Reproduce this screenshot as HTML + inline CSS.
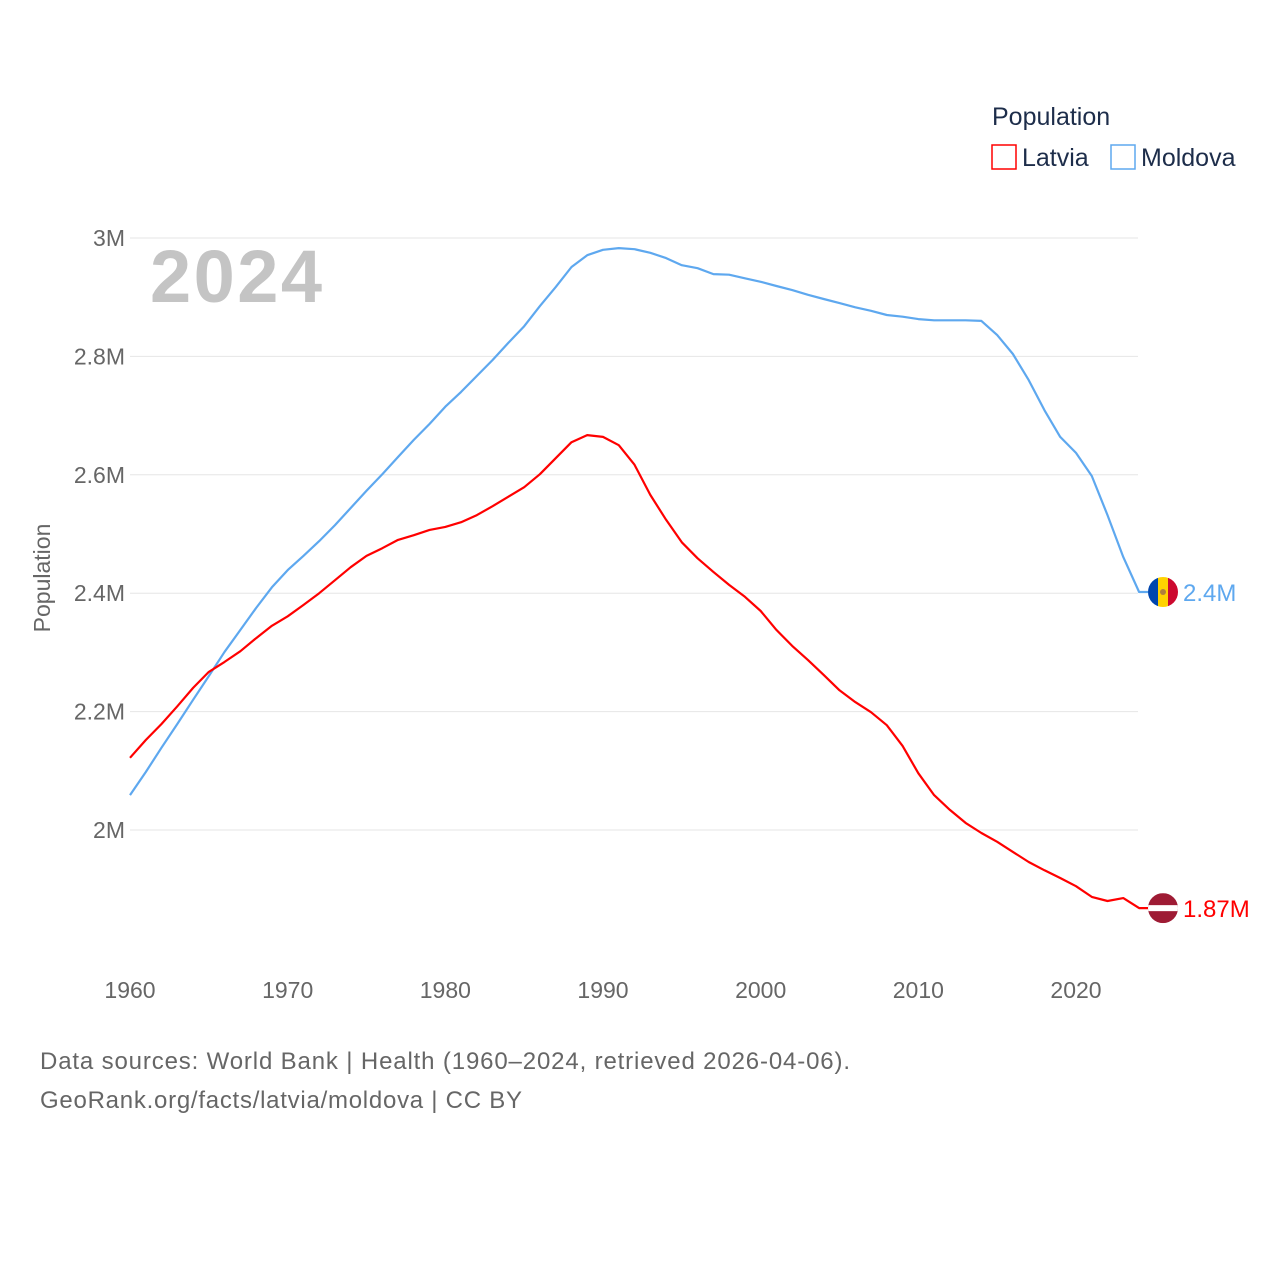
<!DOCTYPE html>
<html><head><meta charset="utf-8"><style>
html,body{margin:0;padding:0;background:#fff;width:1280px;height:1280px;overflow:hidden;font-family:"Liberation Sans",sans-serif}
svg text{font-family:"Liberation Sans",sans-serif}
</style></head><body>
<svg id="chart" width="1280" height="1280" xmlns="http://www.w3.org/2000/svg">
<text x="992" y="125" font-size="25" fill="#1d2d4a">Population</text>
<rect x="992" y="145" width="24" height="24" fill="none" stroke="#ff0000" stroke-width="1.5"/>
<text x="1022" y="166" font-size="25" fill="#1d2d4a">Latvia</text>
<rect x="1111" y="145" width="24" height="24" fill="none" stroke="#5ea8ef" stroke-width="1.5"/>
<text x="1141" y="166" font-size="25" fill="#1d2d4a">Moldova</text>
<text x="150" y="302" font-size="74" font-weight="bold" fill="#c4c4c4" textLength="172">2024</text>
<text transform="translate(50,578) rotate(-90)" text-anchor="middle" font-size="23" fill="#666">Population</text>
<g id="grid"></g><g id="lines"></g><g id="ends"></g>
<text x="40" y="1069" font-size="24" fill="#666" textLength="810">Data sources: World Bank | Health (1960–2024, retrieved 2026-04-06).</text>
<text x="40" y="1108" font-size="24" fill="#666" textLength="482">GeoRank.org/facts/latvia/moldova | CC BY</text>
</svg>
<script>
const years=[];for(let y=1960;y<=2024;y++)years.push(y);
const yTicks=[2,2.2,2.4,2.6,2.8,3];
const yTickLabels=["2M","2.2M","2.4M","2.6M","2.8M","3M"];
const xTicks=[1960,1970,1980,1990,2000,2010,2020];
const moldova=[2.059,2.098,2.139,2.179,2.220,2.260,2.301,2.338,2.375,2.410,2.439,2.463,2.488,2.515,2.544,2.573,2.601,2.630,2.659,2.686,2.715,2.740,2.767,2.794,2.823,2.851,2.885,2.917,2.951,2.971,2.980,2.983,2.981,2.975,2.966,2.954,2.949,2.939,2.938,2.932,2.926,2.919,2.912,2.904,2.897,2.890,2.883,2.877,2.870,2.867,2.863,2.861,2.861,2.861,2.860,2.836,2.804,2.760,2.709,2.664,2.637,2.598,2.532,2.461,2.402];
const latvia=[2.122,2.152,2.179,2.209,2.240,2.267,2.284,2.302,2.324,2.345,2.361,2.380,2.400,2.422,2.444,2.463,2.476,2.490,2.498,2.507,2.512,2.520,2.532,2.547,2.563,2.579,2.601,2.628,2.655,2.667,2.664,2.650,2.617,2.566,2.524,2.486,2.459,2.436,2.414,2.394,2.370,2.338,2.311,2.287,2.262,2.236,2.216,2.199,2.177,2.142,2.096,2.059,2.034,2.012,1.995,1.980,1.963,1.946,1.932,1.919,1.905,1.887,1.880,1.885,1.868];
const endLabels=["2.4M","1.87M"];
const X=v=>130+(v-1960)*(946/60);
const Y=v=>830-(v-2)*592;
const NS="http://www.w3.org/2000/svg";
function mk(t,a,p){const e=document.createElementNS(NS,t);for(const k in a)e.setAttribute(k,a[k]);p.appendChild(e);return e;}
const grid=document.getElementById('grid');
yTicks.forEach((v,i)=>{
 const l=mk('line',{x1:130,x2:1138,y1:Y(v),y2:Y(v),stroke:'#e6e6e6','stroke-width':1},grid);
 
 
 const t=mk('text',{x:125,y:Y(v)+8,'text-anchor':'end','font-size':23,fill:'#666'},grid);
 t.textContent=yTickLabels[i];
 
 
});
xTicks.forEach(v=>{
 const t=mk('text',{x:X(v),y:998,'text-anchor':'middle','font-size':23,fill:'#666'},grid);
 t.textContent=v;
 
 
});
const lines=document.getElementById('lines');
function draw(data,color,name){
 const d=data.map((v,i)=>(i?'L':'M')+X(years[i]).toFixed(1)+','+Y(v).toFixed(1)).join('')+'L'+(X(2024)+9).toFixed(1)+','+Y(data[data.length-1]).toFixed(1);
 const p=mk('path',{d:d,fill:'none',stroke:color,'stroke-width':2.2,'stroke-linejoin':'round'},lines);
 
 
}
draw(moldova,'#5ea8ef','line-moldova');
draw(latvia,'#ff0000','line-latvia');
const ends=document.getElementById('ends');
const cx=1163;
const my=Y(moldova[moldova.length-1]);
const defs=mk('defs',{},ends);
const c1=mk('clipPath',{id:'cm'},defs);mk('circle',{cx:cx,cy:my,r:15},c1);
const c2=mk('clipPath',{id:'cl'},defs);mk('circle',{cx:cx,cy:Y(latvia[latvia.length-1]),r:15},c2);
const gm=mk('g',{'clip-path':'url(#cm)'},ends);


mk('rect',{x:cx-15,y:my-15,width:10,height:30,fill:'#0046ae'},gm);
mk('rect',{x:cx-5,y:my-15,width:10,height:30,fill:'#ffd200'},gm);
mk('rect',{x:cx+5,y:my-15,width:10,height:30,fill:'#cc092f'},gm);
mk('circle',{cx:cx,cy:my,r:3,fill:'#b07e3c'},gm);
const tm=mk('text',{x:1183,y:my+9,'font-size':24,fill:'#5ea8ef'},ends);
tm.textContent=endLabels[0];


const ly=Y(latvia[latvia.length-1]);
const gl=mk('g',{'clip-path':'url(#cl)'},ends);


mk('rect',{x:cx-15,y:ly-15,width:30,height:30,fill:'#9e1b34'},gl);
mk('rect',{x:cx-15,y:ly-3,width:30,height:6,fill:'#fff'},gl);
const tl=mk('text',{x:1183,y:ly+9,'font-size':24,fill:'#ff0000'},ends);
tl.textContent=endLabels[1];


</script>
</body></html>
